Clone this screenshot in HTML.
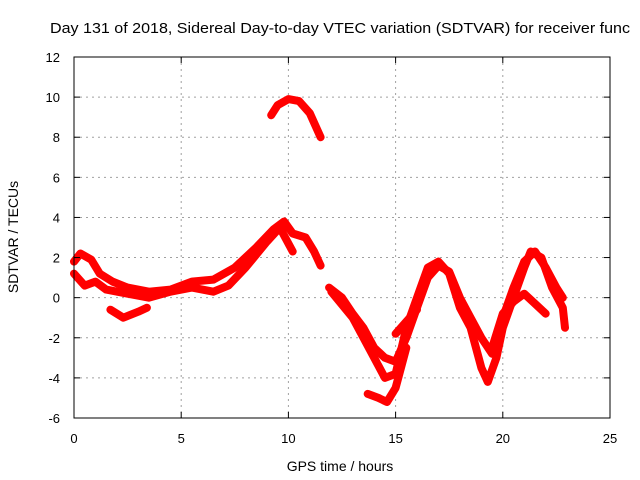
<!DOCTYPE html>
<html><head><meta charset="utf-8"><style>
body{margin:0;background:#fff;width:640px;height:480px;overflow:hidden}
svg{display:block;font-family:"Liberation Sans",sans-serif}
</style></head><body>
<svg id="c" width="640" height="480">
<text x="50" y="33" font-size="15" textLength="580" lengthAdjust="spacingAndGlyphs">Day 131 of 2018, Sidereal Day-to-day VTEC variation (SDTVAR) for receiver func</text>
<g id="grid"></g><g id="series"></g><g id="axes"></g>
<text x="340" y="471" font-size="14" text-anchor="middle">GPS time / hours</text>
<text transform="translate(18,237) rotate(-90)" font-size="14" text-anchor="middle">SDTVAR / TECUs</text>
</svg>
<script>
const xTicks=[0,5,10,15,20,25];
const yTicks=[-6,-4,-2,0,2,4,6,8,10,12];
const trackNames=["arc-top","band-upper","band-mid","dip-low","tail-right-a","tail-right-b","trough-low","branch-a","branch-b"];
const hoursA=[9.2,9.5,10,10.5,11,11.5];
const valsA=[9.1,9.6,9.9,9.8,9.2,8.0];
const hoursB=[0,0.3,0.8,1.2,1.8,2.5,3.5,4.5,5.5,6.5,7.5,8.5,9.3,9.8,10.2,10.8,11.2,11.5];
const valsB=[1.8,2.2,1.9,1.2,0.8,0.5,0.3,0.4,0.8,0.9,1.5,2.5,3.4,3.8,3.2,3.0,2.3,1.6];
const hoursC=[0,0.5,1.0,1.5,2.5,3.5,4.5,5.5,6.5,7.2,8,9,9.6,10.2];
const valsC=[1.2,0.6,0.8,0.4,0.2,0.0,0.3,0.5,0.3,0.6,1.5,2.8,3.5,2.3];
const hoursD=[1.7,2.3,3.0,3.4];
const valsD=[-0.6,-1.0,-0.7,-0.5];
const hoursE=[11.9,12.5,13,13.5,14,14.5,15,15.5,16,16.5,17,17.5,18,18.5,19,19.5,20,20.5,21,21.5,22,22.5,22.8];
const valsE=[0.5,0,-0.8,-1.5,-2.5,-3.0,-3.2,-2.0,-0.5,1.0,1.6,1.3,0,-1,-2,-2.8,-1,0.5,1.8,2.3,1.5,0.5,0];
const hoursF=[12,13,14,14.5,15,15.5,16,16.5,17,17.5,18,18.5,19,19.3,19.7,20,20.5,21,21.3,21.8,22.3,22.8,22.9];
const valsF=[0.3,-1,-3,-4,-3.8,-1.5,0,1.5,1.8,1.2,-0.5,-1.5,-3.5,-4.2,-3,-1.5,0,1.5,2.3,2,0.5,-0.5,-1.5];
const hoursG=[13.7,14.2,14.6,15,15.5];
const valsG=[-4.8,-5.0,-5.2,-4.5,-2.5];
const hoursH=[15,15.5,16];
const valsH=[-1.8,-1.2,-0.6];
const hoursI=[19.5,20,20.5,21,21.5,22];
const valsI=[-2.5,-0.8,-0.2,0.2,-0.3,-0.8];
const allH=[hoursA,hoursB,hoursC,hoursD,hoursE,hoursF,hoursG,hoursH,hoursI];
const allV=[valsA,valsB,valsC,valsD,valsE,valsF,valsG,valsH,valsI];
const X=h=>74+h*(610-74)/25;
const Y=v=>418-(v+6)*(418-57)/18;
const NS="http://www.w3.org/2000/svg";
function mk(t,a,p){const e=document.createElementNS(NS,t);for(const k in a)e.setAttribute(k,a[k]);p.appendChild(e);return e;}
const grid=document.getElementById('grid'),axes=document.getElementById('axes'),ser=document.getElementById('series');
xTicks.forEach(t=>{
 if(t>0&&t<25){const l=mk('line',{x1:X(t),x2:X(t),y1:57,y2:418,stroke:'#a0a0a0','stroke-dasharray':'2,4'},grid);
 
 }
 const tk=mk('text',{x:X(t),y:443,'font-size':13,'text-anchor':'middle'},axes);tk.textContent=t;
 
 
 mk('line',{x1:X(t),x2:X(t),y1:418,y2:412,stroke:'#000'},axes);
 mk('line',{x1:X(t),x2:X(t),y1:57,y2:63,stroke:'#000'},axes);
});
yTicks.forEach(t=>{
 if(t>-6&&t<12){const l=mk('line',{x1:74,x2:610,y1:Y(t),y2:Y(t),stroke:'#a0a0a0','stroke-dasharray':'2,4'},grid);
 
 }
 const tk=mk('text',{x:60,y:Y(t)+5,'font-size':13,'text-anchor':'end'},axes);tk.textContent=t;
 
 
 mk('line',{x1:74,x2:80,y1:Y(t),y2:Y(t),stroke:'#000'},axes);
 mk('line',{x1:604,x2:610,y1:Y(t),y2:Y(t),stroke:'#000'},axes);
});
const fr=mk('rect',{x:74,y:57,width:536,height:361,fill:'none',stroke:'#000'},axes);


allH.forEach((hs,i)=>{
 const pts=hs.map((h,j)=>X(h).toFixed(1)+','+Y(allV[i][j]).toFixed(1)).join(' ');
 const p=mk('polyline',{points:pts,fill:'none',stroke:'#ff0000','stroke-width':8,'stroke-linejoin':'round','stroke-linecap':'round'},ser);
 
 
});
</script>
</body></html>
